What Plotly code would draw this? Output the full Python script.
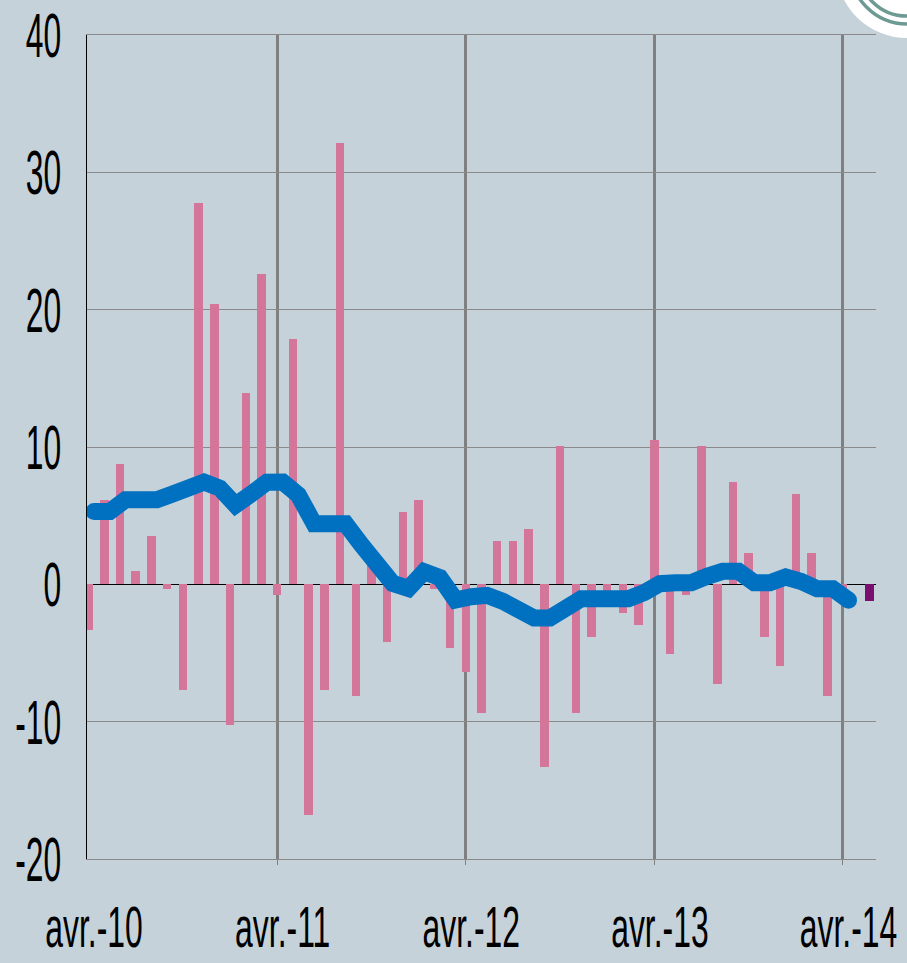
import plotly.graph_objects as go

# ---------------- data ----------------
# monthly values, April 2010 (index 0) .. April 2014 (index 48)
bar_values = [-3.35, 6.14, 8.76, 0.95, 3.54, -0.32, -7.68, 27.8, 20.4, -10.27, 13.95, 22.6,
              -0.76, 17.87, -16.8, -7.7, 32.1, -8.1, 1.4, -4.2, 5.3, 6.16, -0.32, -4.66,
              -6.4, -9.4, 3.13, 3.13, 4.0, -13.3, 10.05, -9.4, -3.8, -0.5, -2.07, -2.94,
              10.5, -5.1, -0.76, 10.05, -7.26, 7.45, 2.26, -3.8, -5.97, 6.58, 2.26, -8.1,
              -0.34]
line_values = [5.3, 5.3, 6.16, 6.16, 6.16, 6.58, 7.0, 7.45, 7.0, 5.78, 6.58, 7.43,
               7.45, 6.5, 4.41, 4.41, 4.41, 2.9, 1.4, 0.07, -0.3, 0.92, 0.5, -1.14,
               -0.9, -0.8, -1.24, -2.0, -2.45, -2.45, -1.73, -1.05, -1.05, -1.05, -1.05, -0.6,
               0.05, 0.12, 0.12, 0.58, 0.95, 0.95, 0.12, 0.12, 0.53, 0.2, -0.32, -0.32,
               -1.15]
last_month_index = [49]
last_value = [-1.2]
tick_months = [0, 12, 24, 36, 48]
tick_labels = ["avr.-10", "avr.-11", "avr.-12", "avr.-13", "avr.-14"]
y_ticks = [-20, -10, 0, 10, 20, 30, 40]

# ---------------- styling ----------------
BG = "#C6D2D9"
PINK = "#D4759A"
PURPLE = "#7B0F6F"
BLUE = "#0070C0"
GRID = "#8A8A8A"
VGRID = "#808080"
FONT = "Liberation Sans, Arial, sans-serif"

months = list(range(len(bar_values)))
line_x = [m + 0.35 for m in range(len(line_values))]

fig = go.Figure()
fig.add_trace(go.Bar(x=months, y=bar_values, width=0.54,
                     marker=dict(color=PINK, line=dict(width=0)), showlegend=False))
fig.add_trace(go.Bar(x=last_month_index, y=last_value, width=0.57, offset=0.4,
                     marker=dict(color=PURPLE, line=dict(width=0)), showlegend=False))
fig.add_trace(go.Scatter(x=line_x, y=line_values, mode="lines",
                         line=dict(color=BLUE, width=17), showlegend=False))
fig.add_trace(go.Scatter(x=[line_x[0], line_x[-1]], y=[line_values[0], line_values[-1]],
                         mode="markers", marker=dict(color=BLUE, size=17, line=dict(width=0)),
                         showlegend=False))

# logo fragment in top-right corner
W, H = 907, 963
L, R, T, B = 87, 31, 35, 104
pw, ph = W - L - R, H - T - B
ax = (907 - L) / pw
ay = (H - B + 33) / ph
shapes = [
    dict(type="circle", xref="paper", yref="paper", xsizemode="pixel", ysizemode="pixel",
         xanchor=ax, yanchor=ay, x0=-71, x1=71, y0=-71, y1=71,
         fillcolor="white", line=dict(width=0), layer="above"),
]
for r in (57, 49):
    shapes.append(dict(type="circle", xref="paper", yref="paper", xsizemode="pixel",
                       ysizemode="pixel", xanchor=ax, yanchor=ay, x0=-r, x1=r, y0=-r, y1=r,
                       line=dict(color="#6E9A94", width=3.5), layer="above"))

y_font = dict(family=FONT, size=63, color="black")
x_font = dict(family=FONT, size=58, color="black")

fig.update_layout(
    width=W, height=H,
    margin=dict(l=L, r=R, t=T, b=B, autoexpand=False),
    paper_bgcolor=BG, plot_bgcolor=BG,
    barmode="overlay", bargap=0,
    font=y_font,
    shapes=shapes,
)
fig.update_xaxes(
    range=[-0.1, 50.1], automargin=False,
    tickmode="array", tickvals=[m + 0.35 for m in tick_months], ticktext=tick_labels,
    tickfont=x_font, ticklabeloverflow="allow", tickangle=0,
    ticks="", showgrid=False, zeroline=False,
    showline=True, mirror=True, linecolor=GRID, linewidth=1,
    ticklabelstandoff=17,
    minor=dict(tickmode="array", tickvals=tick_months[1:], showgrid=True,
               gridcolor=VGRID, gridwidth=3, ticks="outside", ticklen=5,
               tickcolor=VGRID, tickwidth=1),
)
fig.update_yaxes(
    range=[-20, 40], automargin=False, tickmode="array", tickvals=y_ticks,
    ticktext=[str(v) for v in y_ticks], tickfont=y_font, ticklabeloverflow="allow",
    showgrid=True, gridcolor=GRID, gridwidth=1.3,
    zeroline=True, zerolinecolor="black", zerolinewidth=1.3,
    showline=True, linecolor="black", linewidth=1.3,
    ticks="", ticklabelstandoff=12,
)

# page without body margin; tick labels drawn in a condensed (narrow) width
post = """
document.body.style.margin = '0';
document.body.style.background = '%s';
document.querySelectorAll('.xtick text').forEach(function (t) {
    var w = t.getComputedTextLength();
    t.setAttribute('textLength', (w * 0.55).toFixed(1));
    t.setAttribute('lengthAdjust', 'spacingAndGlyphs');
});
document.querySelectorAll('.ytick text').forEach(function (t) {
    var w = t.getComputedTextLength();
    t.setAttribute('textLength', (w * 0.505).toFixed(1));
    t.setAttribute('lengthAdjust', 'spacingAndGlyphs');
});
""" % BG

fig.write_html("out.html", post_script=post, config={"displayModeBar": False})
